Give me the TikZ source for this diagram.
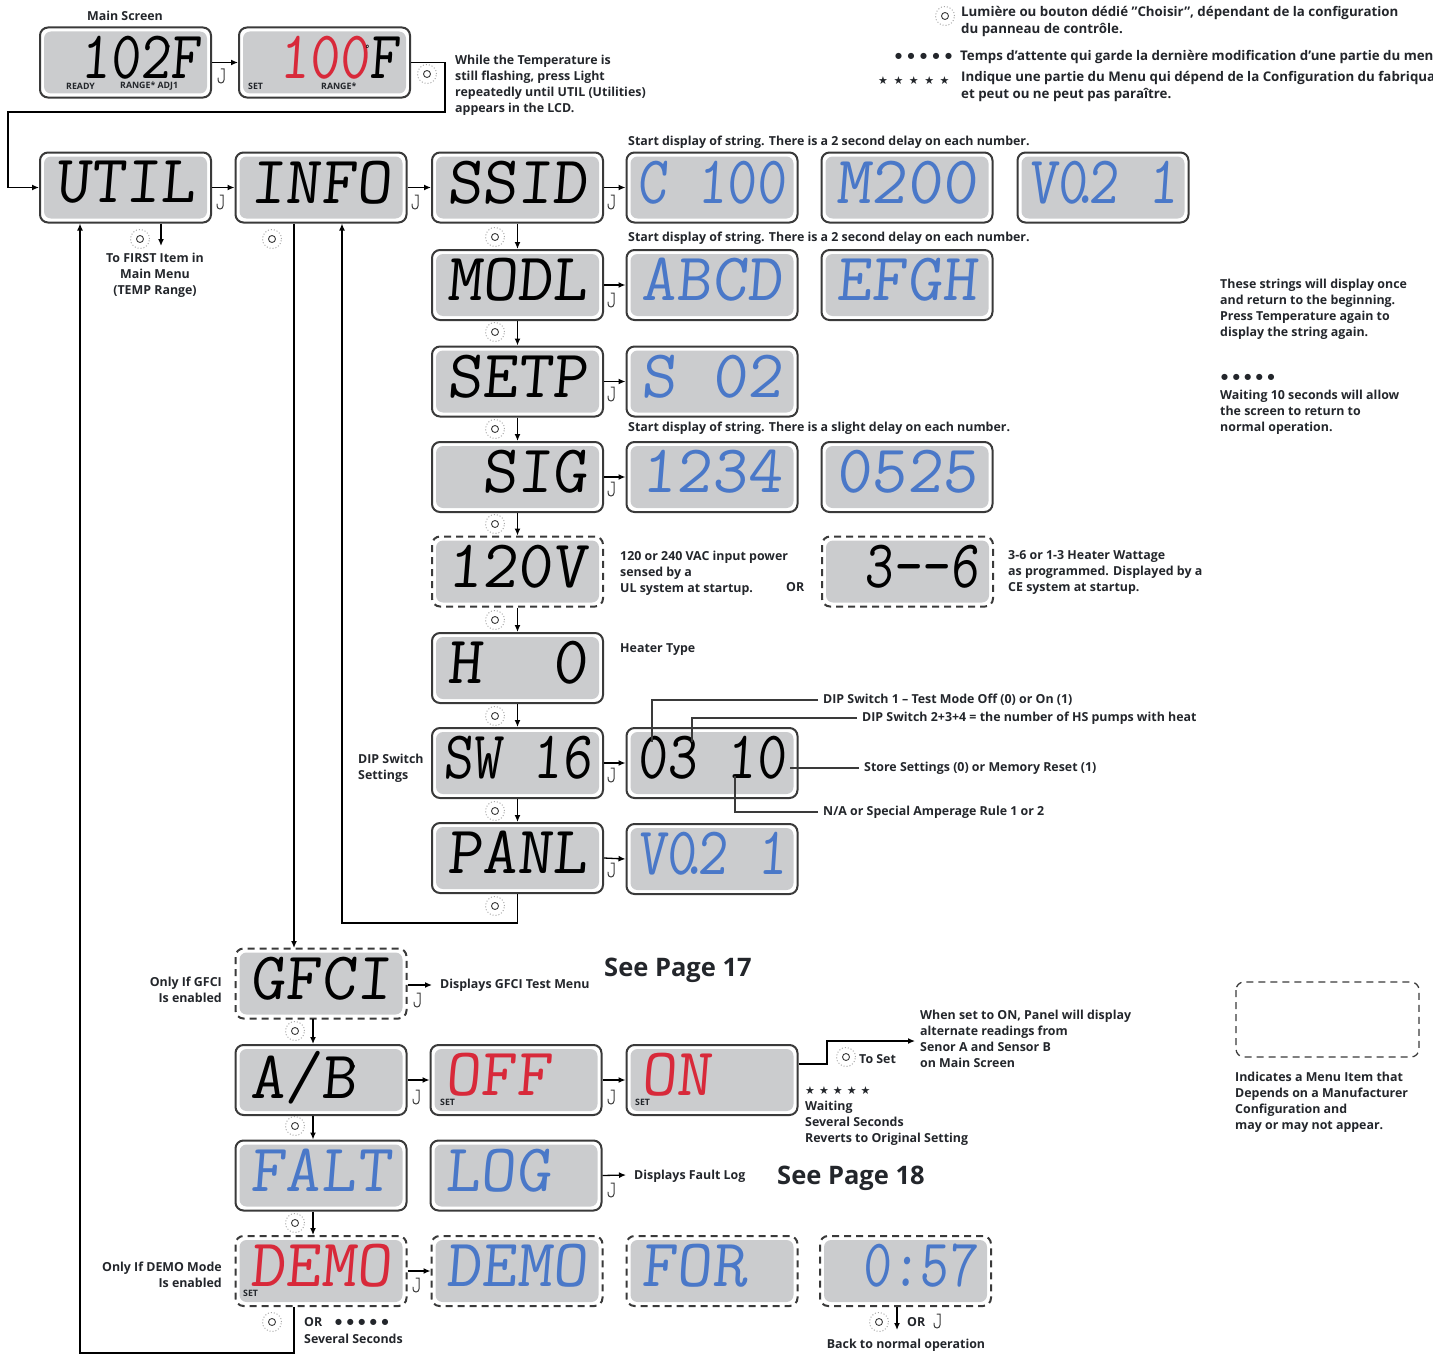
\documentclass[tikz,border=0pt]{standalone}
\usepackage{fontspec}
\usepackage{graphicx}
\usepackage{xcolor}
\usepackage{tikz}
\usetikzlibrary{arrows.meta,calc}
\setmainfont{Open Sans}
\newfontfamily\lcdfont[FakeSlant=0.08]{Latin Modern Mono}
\newfontfamily\symbfont{DejaVu Sans}
\definecolor{lcdgray}{HTML}{CBCCCE}
\definecolor{lcdline}{HTML}{3A3A3A}
\definecolor{lcdblue}{HTML}{4A78C8}
\definecolor{lcdred}{HTML}{D8293A}
\definecolor{notedark}{HTML}{23262B}
\newcommand{\lcd}[2][1]{\raisebox{11pt}{\lcdfont\fontsize{68}{68}\selectfont\scalebox{#1}[1]{#2}}}
\newcommand{\lcddeg}{\llap{\raisebox{26pt}{\fontsize{12}{12}\selectfont°}}}
\newcommand{\fivemarks}[2]{#1\kern#2#1\kern#2#1\kern#2#1\kern#2#1}
\tikzset{
  lcdbox/.style={draw=lcdline,line width=2pt,rounded corners=8pt,minimum width=171pt,minimum height=70pt,inner sep=0pt,text=black,
    path picture={\fill[lcdgray,rounded corners=7pt] ($(path picture bounding box.south west)+(4pt,4pt)$) rectangle ($(path picture bounding box.north east)+(-4pt,-4pt)$);}},
  optbox/.style={lcdbox,dashed,dash pattern=on 7pt off 5pt},
  bluetext/.style={text=lcdblue},
  redtext/.style={text=lcdred},
  flow/.style={draw=black,line width=1.3pt,-{Latex[length=7pt,width=6pt]}},
  wire/.style={draw=lcdline,line width=1.3pt},
  note/.style={font=\fontsize{12.4}{16}\selectfont\bfseries,text=notedark,align=left,anchor=north west,inner sep=0pt,yshift=-2.5pt},
  noteline/.style={note,anchor=west,yshift=1.5pt},
  noteright/.style={note,align=right,anchor=north east},
  notemid/.style={note,align=center,anchor=north},
  legend/.style={note,font=\fontsize{13.3}{17}\selectfont\bfseries},
  tag/.style={font=\fontsize{8.8}{8.8}\selectfont\bfseries,text=notedark,inner sep=0pt,anchor=west},
  seepage/.style={font=\fontsize{25.5}{25.5}\selectfont\bfseries,text=notedark,anchor=west,inner sep=0pt,yshift=-3pt},
  marks/.style={font=\symbfont\fontsize{8}{8}\selectfont,text=notedark,anchor=west,inner sep=0pt},
  stars/.style={font=\symbfont\fontsize{11}{11}\selectfont,text=notedark,anchor=west,inner sep=0pt},
  lamp/.style={circle,draw=gray!70,dotted,line width=1pt,minimum size=19pt,inner sep=0pt,
    path picture={\draw[lcdline,solid,line width=.9pt] (path picture bounding box.center) circle[radius=3.5pt];}},
  pics/tempkey/.style={code={\draw[lcdline,line width=1pt,line cap=round] (-2pt,7pt) -- (1pt,7pt) -- (1pt,-4pt) arc[start angle=0,end angle=-180,radius=3pt] -- (-5pt,-2pt);}},
}
\begin{document}
\begin{tikzpicture}[x=1pt,y=-1pt]
\useasboundingbox (0,0) rectangle (1433,1354);
\node[lcdbox] (main1) at (125.5,62.5) {\lcd[.86]{~102\lcddeg F}};
\node[lcdbox] (main2) at (324.5,62.5) {\lcd[.86]{~\textcolor{lcdred}{100}\lcddeg F}};
\node[lcdbox] (util) at (125.5,187.5) {\lcd{UTIL}};
\node[lcdbox] (info) at (321,187.5) {\lcd{INFO}};
\node[lcdbox] (ssid) at (517.5,187.5) {\lcd{SSID}};
\node[lcdbox,bluetext] (cstr) at (712,187.5) {\lcd[.85]{C~100}};
\node[lcdbox,bluetext] (mstr) at (907,187.5) {\lcd{M200}};
\node[lcdbox,bluetext] (vstr) at (1103,187.5) {\lcd[.85]{V0\kern-.3em.\kern-.2em2~1}};
\node[lcdbox] (modl) at (517.5,285) {\lcd{MODL}};
\node[lcdbox,bluetext] (abcd) at (712,285) {\lcd{ABCD}};
\node[lcdbox,bluetext] (efgh) at (907,285) {\lcd{EFGH}};
\node[lcdbox] (setp) at (517.5,381.5) {\lcd{SETP}};
\node[lcdbox,bluetext] (sstr) at (712,381.5) {\lcd{S~02}};
\node[lcdbox] (sig) at (517.5,477) {\lcd{~SIG}};
\node[lcdbox,bluetext] (nsig) at (712,477) {\lcd{1234}};
\node[lcdbox,bluetext] (msig) at (907,477) {\lcd{0525}};
\node[optbox] (volt) at (517.5,571.5) {\lcd{120V}};
\node[optbox] (watt) at (907.5,571.5) {\lcd[.82]{~3--6}};
\node[lcdbox] (heat) at (517.5,668) {\lcd{H~~0}};
\node[lcdbox] (swit) at (517.5,763) {\lcd[.85]{SW~16}};
\node[lcdbox] (dips) at (712,763) {\lcd[.85]{03~10}};
\node[lcdbox] (panl) at (517.5,858) {\lcd{PANL}};
\node[lcdbox,bluetext] (pver) at (712,859) {\lcd[.85]{V0\kern-.3em.\kern-.2em2~1}};
\node[optbox] (gfci) at (321,983.5) {\lcd{GFCI}};
\node[lcdbox] (absw) at (321,1080) {\lcd{A/B\lcddeg~}};
\node[lcdbox,redtext] (offs) at (516,1080) {\lcd{OFF~}};
\node[lcdbox,redtext] (onst) at (712,1080) {\lcd{ON~~}};
\node[lcdbox,bluetext] (falt) at (321,1175.5) {\lcd{FALT}};
\node[lcdbox,bluetext] (flog) at (516,1175.5) {\lcd{LOG~}};
\node[optbox,redtext] (demo) at (321,1271) {\lcd{DEMO}};
\node[optbox,bluetext] (dmsg) at (517,1271) {\lcd{DEMO}};
\node[optbox,bluetext] (dfor) at (712,1271) {\lcd{FOR~}};
\node[optbox,bluetext] (dtim) at (905.5,1271) {\lcd[.82]{~0:57}};
\node[tag] (rdy) at (66,86) {READY};
\node[tag] (rng) at (120,86) {RANGE* ADJ1};
\node[tag] (set) at (248,86) {SET};
\node[tag] (rgs) at (321,86) {RANGE*};
\node[tag] (sof) at (440,1102) {SET};
\node[tag] (son) at (635,1102) {SET};
\node[tag] (sdm) at (243,1293) {SET};
% connectors
\coordinate (uturn) at (445,112);
\coordinate (ulft) at (8,112);
\draw[flow] (main1.east) -- (main2.west);
\draw[flow] (main2.east) -| (uturn) -- (ulft) |- (util.west);
\draw[flow] (util.east) -- (info.west);
\draw[flow] (info.east) -- (ssid.west);
\draw[flow] (ssid.east) -- (cstr.west);
\draw[flow] (modl.east) -- (abcd.west);
\draw[flow] (setp.east) -- (sstr.west);
\draw[flow] (sig.east) -- (nsig.west);
\draw[flow] (swit.east) -- (dips.west);
\draw[flow] (panl.east) -- (pver.west);
\draw[flow] (ssid.south) -- (modl.north);
\draw[flow] (modl.south) -- (setp.north);
\draw[flow] (setp.south) -- (sig.north);
\draw[flow] (sig.south) -- (volt.north);
\draw[flow] (volt.south) -- (heat.north);
\draw[flow] (heat.south) -- (swit.north);
\draw[flow] (swit.south) -- (panl.north);
\coordinate (firstend) at (161,246);
\draw[flow] (util.south -| firstend) -- (firstend);
\coordinate (pback) at (342,923);
\draw[flow] (panl.south) |- (pback) -- (info.south -| pback);
\coordinate (gtop) at (294,948);
\draw[flow] (info.south -| gtop) -- (gtop);
\coordinate (gab) at (313,1019);
\draw[flow] (gab) -- (absw.north -| gab);
\draw[flow] (absw.south -| gab) -- (falt.north -| gab);
\draw[flow] (falt.south -| gab) -- (demo.north -| gab);
\coordinate (dbot) at (294,1353);
\coordinate (dlft) at (80,1353);
\draw[flow] (demo.south -| dbot) -- (dbot) -- (dlft) -- (util.south -| dlft);
\draw[flow] (absw.east) -- (offs.west);
\draw[flow] (offs.east) -- (onst.west);
\draw[flow] (demo.east) -- (dmsg.west);
\coordinate (gmenu) at (432,985);
\draw[flow] (gfci.east |- gmenu) -- (gmenu);
\coordinate (fmenu) at (626,1175);
\draw[flow] (flog.east) -- (fmenu);
\coordinate (onto) at (915,1041);
\coordinate (onup) at (827,1064);
\draw[flow] (onup -| onst.east) -- (onup) |- (onto);
\coordinate (dend) at (897,1330);
\draw[flow] (dtim.south -| dend) -- (dend);
% dip switch callouts
\node[noteline] (dipa) at (823,699) {DIP Switch 1 -- Test Mode Off (0) or On (1)};
\node[noteline] (dipb) at (862,717) {DIP Switch 2+3+4 = the number of HS pumps with heat};
\node[noteline] (dipc) at (864,767) {Store Settings (0) or Memory Reset (1)};
\node[noteline] (dipd) at (823,811) {N/A or Special Amperage Rule 1 or 2};
\coordinate (dipaend) at (652,742);
\coordinate (dipbend) at (692,742);
\coordinate (dipcend) at (790,767);
\coordinate (dipdend) at (735,776);
\draw[wire] ([xshift=-5pt]dipa.west) -| (dipaend);
\draw[wire] ([xshift=-5pt]dipb.west) -| (dipbend);
\draw[wire] ([xshift=-5pt]dipc.west) -- (dipc.west -| dipcend);
\draw[wire] ([xshift=-5pt]dipd.west) -| (dipdend);
% lamps
\node[lamp] (l0) at (427,74) {};
\node[lamp] (l1) at (140,239) {};
\node[lamp] (l2) at (272,239) {};
\node[lamp] (l3) at (495,237) {};
\node[lamp] (l4) at (495,332) {};
\node[lamp] (l5) at (495,429) {};
\node[lamp] (l6) at (495,524) {};
\node[lamp] (l7) at (495,620) {};
\node[lamp] (l8) at (495,716) {};
\node[lamp] (l9) at (495,811) {};
\node[lamp] (l10) at (495,906) {};
\node[lamp] (l11) at (295,1031) {};
\node[lamp] (l12) at (295,1126) {};
\node[lamp] (l13) at (295,1223) {};
\node[lamp] (l14) at (272,1322) {};
\node[lamp] (l15) at (846,1057) {};
\node[lamp] (l16) at (879,1322) {};
\node[lamp] (l17) at (945,16) {};
% temperature keys
\pic at (223,76) {tempkey};
\pic at (222,202) {tempkey};
\pic at (417,202) {tempkey};
\pic at (613,202) {tempkey};
\pic at (613,300) {tempkey};
\pic at (613,394) {tempkey};
\pic at (613,489) {tempkey};
\pic at (613,775) {tempkey};
\pic at (613,870) {tempkey};
\pic at (419,1000) {tempkey};
\pic at (418,1097) {tempkey};
\pic at (613,1097) {tempkey};
\pic at (613,1190) {tempkey};
\pic at (418,1285) {tempkey};
\pic at (939,1321) {tempkey};
% texts
\node[notemid] (tmain) at (125,8) {Main Screen};
\node[note] (twhile) at (455,52) {While the Temperature is\\still flashing, press Light\\repeatedly until UTIL (Utilities)\\appears in the LCD.};
\node[notemid] (tfirst) at (155,250) {To FIRST Item in\\Main Menu\\(TEMP Range)};
\node[note] (tstra) at (628,133) {Start display of string. There is a 2 second delay on each number.};
\node[note] (tstrb) at (628,229) {Start display of string. There is a 2 second delay on each number.};
\node[note] (tstrc) at (628,419) {Start display of string. There is a slight delay on each number.};
\node[note] (tvolt) at (620,548) {120 or 240 VAC input power\\sensed by a\\UL system at startup.};
\node[note] (tor) at (786,580) {OR};
\node[note] (twatt) at (1008,548) {3-6 or 1-3 Heater Wattage\\as programmed. Displayed by a\\CE system at startup.};
\node[note] (theat) at (620,641) {Heater Type};
\node[note] (tdip) at (358,751) {DIP Switch\\Settings};
\node[note] (tonce) at (1220,276) {These strings will display once\\and return to the beginning.\\Press Temperature again to\\display the string again.};
\node[marks] (mwait) at (1221,377) {\fivemarks{●}{4.6pt}};
\node[note] (twait) at (1220,387) {Waiting 10 seconds will allow\\the screen to return to\\normal operation.};
\node[noteright] (tgfci) at (222,974) {Only If GFCI\\Is enabled};
\node[noteline] (tgmenu) at (440,984) {Displays GFCI Test Menu};
\node[seepage] (tsa) at (604,967) {See Page 17};
\node[note] (talt) at (920,1007) {When set to ON, Panel will display\\alternate readings from\\Senor A and Sensor B\\on Main Screen};
\node[noteline] (tset) at (859,1058) {To Set};
\node[stars] (mrev) at (805,1091) {\fivemarks{★}{4pt}};
\node[note] (trev) at (805,1098) {Waiting\\Several Seconds\\Reverts to Original Setting};
\node[noteline] (tfmenu) at (634,1175) {Displays Fault Log};
\node[seepage] (tsb) at (777,1175) {See Page 18};
\node[noteright] (tdemo) at (222,1259) {Only If DEMO Mode\\Is enabled};
\node[noteline] (tdor) at (304,1321) {OR};
\node[marks] (mdem) at (335,1322) {\fivemarks{●}{4.6pt}};
\node[noteline] (tdsec) at (304,1338) {Several Seconds};
\node[noteline] (tbor) at (907,1321) {OR};
\node[notemid] (tback) at (906,1336) {Back to normal operation};
\draw[wire,dashed,dash pattern=on 7pt off 5pt,rounded corners=8pt] (1236,982) rectangle (1419,1057);
\node[note] (tlegd) at (1235,1069) {Indicates a Menu Item that\\Depends on a Manufacturer\\Configuration and\\may or may not appear.};
\node[legend] (tlgl) at (961,4) {Lumière ou bouton dédié "Choisir", dépendant de la configuration\\du panneau de contrôle.};
\node[marks] (mlg) at (895,56) {\fivemarks{●}{5.5pt}};
\node[legend,anchor=west,yshift=1.5pt] (tlgw) at (960,56) {Temps d'attente qui garde la dernière modification d'une partie du menu};
\node[stars] (slg) at (878,81) {\fivemarks{★}{5.5pt}};
\node[legend] (tlgs) at (961,69) {Indique une partie du Menu qui dépend de la Configuration du fabriquant\\et peut ou ne peut pas paraître.};
\end{tikzpicture}
\end{document}
